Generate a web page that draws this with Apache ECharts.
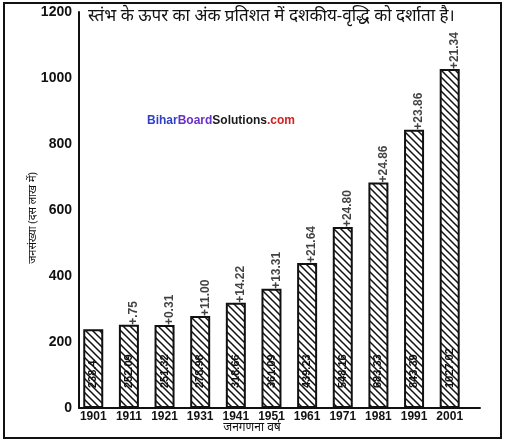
<!DOCTYPE html>
<html>
<head>
<meta charset="utf-8">
<script src="https://cdn.jsdelivr.net/npm/echarts@6/dist/echarts.min.js"></script>
<style>
  html, body { margin: 0; padding: 0; background: #fff; }
  #chart { width: 510px; height: 443px; }
</style>
</head>
<body>
<div id="chart"></div>
<script>
// 数据
const years = [1901, 1911, 1921, 1931, 1941, 1951, 1961, 1971, 1981, 1991, 2001];
const population = [238.4, 252.09, 251.32, 278.98, 318.66, 361.09, 439.23, 548.16, 683.33, 843.39, 1027.02];
const growth = ['', '+.75', '+0.31', '+11.00', '+14.22', '+13.31', '+21.64', '+24.80', '+24.86', '+23.86', '+21.34'];

const titleText = 'स्तंभ के ऊपर का अंक प्रतिशत में दशकीय-वृद्धि को दर्शाता है।';
const yName = 'जनसंख्या (दस लाख में)';
const xName = 'जनगणना वर्ष';

const narrow = '"Liberation Sans Narrow", "Arial Narrow", "Liberation Sans", sans-serif';
const sans = '"Liberation Sans", Arial, sans-serif';

// 斜线填充
const makeHatch = () => {
  const s = 7;
  const c = document.createElement('canvas');
  c.width = s;
  c.height = s;
  const ctx = c.getContext('2d');
  ctx.fillStyle = '#fff';
  ctx.fillRect(0, 0, s, s);
  ctx.strokeStyle = '#111';
  ctx.lineWidth = 1.5;
  ctx.beginPath();
  ctx.moveTo(-1, -1); ctx.lineTo(s + 1, s + 1);
  ctx.moveTo(-s - 1, -1); ctx.lineTo(1, s + 1);
  ctx.moveTo(s - 1, -1); ctx.lineTo(2 * s + 1, s + 1);
  ctx.stroke();
  return c;
};

const myChart = echarts.init(document.getElementById('chart'), null, { renderer: 'canvas' });

const option = {
  animation: false,
  backgroundColor: '#fff',
  grid: { left: 79, right: 30, top: 12, bottom: 35 },
  xAxis: {
    type: 'value',
    min: 1897,
    max: 2009.5,
    splitLine: { show: false },
    axisLine: { show: true, lineStyle: { color: '#111', width: 2 } },
    axisTick: { show: false },
    axisLabel: {
      customValues: years,
      formatter: v => String(v),
      color: '#111',
      fontFamily: sans,
      fontWeight: 'bold',
      fontSize: 12,
      margin: 3
    }
  },
  yAxis: {
    type: 'value',
    min: 0,
    max: 1200,
    interval: 200,
    splitLine: { show: false },
    axisLine: { show: true, lineStyle: { color: '#111', width: 2 } },
    axisTick: { show: false },
    axisLabel: {
      formatter: v => String(v),
      color: '#111',
      fontFamily: sans,
      fontWeight: 'bold',
      fontSize: 14,
      margin: 7
    }
  },
  series: [
    {
      type: 'bar',
      barWidth: 20,
      data: years.map((y, i) => [y, population[i]]),
      itemStyle: {
        color: { image: makeHatch(), repeat: 'repeat' },
        borderColor: '#111',
        borderWidth: 2
      },
      label: {
        show: true,
        position: 'insideBottom',
        distance: 20,
        rotate: 90,
        align: 'left',
        verticalAlign: 'middle',
        formatter: p => String(population[p.dataIndex]),
        color: '#111',
        fontFamily: narrow,
        fontWeight: 'bold',
        fontSize: 11
      }
    },
    {
      type: 'scatter',
      symbolSize: 0,
      data: years.map((y, i) => [y, population[i]]),
      label: {
        show: true,
        position: [5, 0],
        rotate: 90,
        align: 'left',
        verticalAlign: 'middle',
        formatter: p => growth[p.dataIndex],
        color: '#111',
        fontFamily: narrow,
        fontWeight: 'bold',
        fontSize: 12
      }
    }
  ],
  graphic: [
    {
      type: 'rect',
      shape: { x: 4, y: 3, width: 497, height: 435 },
      style: { fill: 'none', stroke: '#111', lineWidth: 2 }
    },
    {
      type: 'text',
      left: 88,
      top: 8,
      style: {
        text: titleText,
        fill: '#111',
        font: '17px "Noto Sans", sans-serif'
      }
    },
    {
      type: 'text',
      x: 33,
      y: 218,
      rotation: Math.PI / 2,
      style: {
        text: yName,
        fill: '#111',
        font: '11px "Noto Sans", sans-serif',
        align: 'center',
        verticalAlign: 'middle'
      }
    },
    {
      type: 'text',
      x: 252,
      y: 428,
      style: {
        text: xName,
        fill: '#111',
        font: '12px "Noto Sans", sans-serif',
        align: 'center',
        verticalAlign: 'middle'
      }
    },
    {
      type: 'text',
      x: 221,
      y: 121,
      style: {
        text: '{a|Bihar}{b|Board}{c|Solutions}{d|.com}',
        align: 'center',
        verticalAlign: 'middle',
        rich: {
          a: { fill: '#2f3fc8', font: 'bold 12px "Liberation Sans", sans-serif' },
          b: { fill: '#6a2fc8', font: 'bold 12px "Liberation Sans", sans-serif' },
          c: { fill: '#1a1a1a', font: 'bold 12px "Liberation Sans", sans-serif' },
          d: { fill: '#d42020', font: 'bold 12px "Liberation Sans", sans-serif' }
        }
      }
    }
  ]
};

myChart.setOption(option);
</script>
</body>
</html>
